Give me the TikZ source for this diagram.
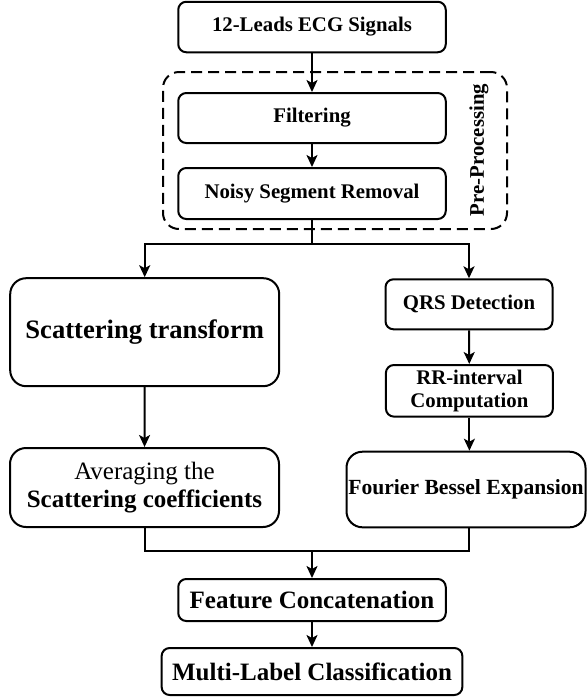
\documentclass[tikz,border=0pt]{standalone}
\usepackage{fontspec}
\setmainfont{Liberation Serif}
\usepackage{tikz}
\usetikzlibrary{arrows.meta,positioning}

\begin{document}
\begin{tikzpicture}[x=0.5pt, y=-0.5pt,
    box/.style={draw, line width=1pt, rounded corners=4pt, align=center, inner sep=0pt,
        font=\fontsize{10.4}{11.5}\selectfont\bfseries},
    bigbox/.style={box, rounded corners=8pt},
    group/.style={draw, dash pattern=on 5.5pt off 3pt, line width=1pt, rounded corners=8pt, inner sep=0pt},
    flow/.style={-{Stealth[length=6pt, width=5.5pt, inset=1.5pt]}, line width=1pt}]
\useasboundingbox (0,0) rectangle (587,698);

% input and pre-processing
\node[box, minimum width=133.75pt, minimum height=25.25pt] (ecg) at (312,27) {12-Leads ECG Signals};
\node[group, minimum width=172pt, minimum height=78.5pt] (pre) at (335,150.5) {};
\node[box, minimum width=133.75pt, minimum height=25pt] (filt) at (312,118) {Filtering};
\node[box, minimum width=133.75pt, minimum height=25.5pt] (noisy) at (312,193.5) {Noisy Segment Removal};
\node[rotate=90, font=\fontsize{10.4}{11.5}\selectfont\bfseries] (prelabel) at (479,150) {Pre-Processing};

% left branch
\node[bigbox, minimum width=134.5pt, minimum height=54pt,
    font=\fontsize{13.3}{15}\selectfont\bfseries] (scat) at (144.7,332.2) {Scattering transform};
\node[bigbox, minimum width=134.5pt, minimum height=39.5pt,
    font=\fontsize{12.5}{13.7}\selectfont] (avg) at (144.5,487.5) {Averaging the\\\textbf{Scattering coefficients}};

% right branch
\node[box, minimum width=83.5pt, minimum height=25pt] (qrs) at (469,304.3) {QRS Detection};
\node[box, minimum width=83.5pt, minimum height=25.8pt] (rr) at (469.4,390.8) {RR-interval\\Computation};
\node[bigbox, minimum width=119.5pt, minimum height=37.8pt,
    font=\fontsize{10.8}{12}\selectfont\bfseries] (four) at (466,489.5) {Fourier Bessel Expansion};

% output
\node[box, minimum width=133.75pt, minimum height=21pt,
    font=\fontsize{12.5}{14}\selectfont\bfseries] (feat) at (312,600) {Feature Concatenation};
\node[box, minimum width=150.35pt, minimum height=23.5pt,
    font=\fontsize{12.5}{14}\selectfont\bfseries] (multi) at (312,671.5) {Multi-Label Classification};

\coordinate (split) at (312,244);
\coordinate (merge) at (312,551);

\draw[flow] (ecg) -- (filt);
\draw[flow] (filt) -- (noisy);
\draw[line width=1pt] (noisy) -- (split);
\draw[flow] (split) -| (scat);
\draw[flow] (split) -| (qrs);
\draw[flow] (scat) -- (avg);
\draw[flow] (qrs) -- (rr);
\draw[flow] (rr.south) -- (rr.south |- four.north);
\draw[line width=1pt] (avg.south) |- (merge);
\draw[line width=1pt] (rr.south |- four.south) |- (merge);
\draw[flow] (merge) -- (feat);
\draw[flow] (feat) -- (multi);
\end{tikzpicture}
\end{document}
